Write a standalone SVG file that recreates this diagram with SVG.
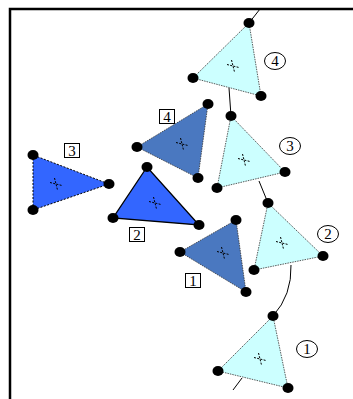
<svg xmlns="http://www.w3.org/2000/svg" width="353" height="399" viewBox="0 0 353 399">
<style>
.cy{fill:#ccffff;stroke:#333;stroke-width:0.8;stroke-dasharray:1.5 1}
.dk{fill:#4a78c0;stroke:#333;stroke-width:0.8;stroke-dasharray:1.5 1}
.br{fill:#3366ff;stroke:#000;stroke-width:1.3}
.brd{fill:#3366ff;stroke:#000;stroke-width:1;stroke-dasharray:2 1.5}
.dot{fill:#000}
.cr{stroke:#000;stroke-width:1;stroke-dasharray:2 1.3;fill:none}
.lb{font-family:"Liberation Serif",serif;font-size:15px;fill:#000;text-anchor:middle}
.cb{fill:#fff;stroke:#000;stroke-width:1}
.sb{fill:#fff;stroke:#000;stroke-width:1}
.ln{stroke:#000;stroke-width:1;fill:none}
</style>
<defs>
<g id="cross"><path class="cr" d="M-6,-1.5 L6,1.5 M-1.5,-6 L1.5,6"/></g>
</defs>
<g id="frame"><path d="M10,399 L10,9 L353,9" fill="none" stroke="#000" stroke-width="2.5"/></g>
<g id="connectors">
<line class="ln" x1="249" y1="23" x2="260" y2="9"/>
<line class="ln" x1="229" y1="88" x2="231" y2="116"/>
<line class="ln" x1="259" y1="181" x2="268" y2="203"/>
<path class="ln" d="M291,265 Q292,295 273,316"/>
<line class="ln" x1="242" y1="378" x2="233" y2="390"/>
</g>
<g id="c4">
<polygon class="cy" points="249,23 193,78 261,96"/>
<use href="#cross" x="233" y="66"/>
<ellipse class="dot" cx="249" cy="23" rx="5.5" ry="5"/><ellipse class="dot" cx="193" cy="78" rx="5.5" ry="5"/><ellipse class="dot" cx="261" cy="96" rx="5.5" ry="5"/>
<ellipse class="cb" cx="275" cy="61" rx="10.5" ry="8.5"/><text class="lb" x="275" y="66">4</text>
</g>
<g id="c3">
<polygon class="cy" points="231,116 217,188 285,172"/>
<use href="#cross" x="244" y="160"/>
<ellipse class="dot" cx="231" cy="116" rx="5.5" ry="5"/><ellipse class="dot" cx="217" cy="188" rx="5.5" ry="5"/><ellipse class="dot" cx="285" cy="172" rx="5.5" ry="5"/>
<ellipse class="cb" cx="290" cy="146" rx="10.5" ry="8.5"/><text class="lb" x="290" y="151">3</text>
</g>
<g id="c2">
<polygon class="cy" points="268,203 254,270 323,256"/>
<use href="#cross" x="282" y="243"/>
<ellipse class="dot" cx="268" cy="203" rx="5.5" ry="5"/><ellipse class="dot" cx="254" cy="270" rx="5.5" ry="5"/><ellipse class="dot" cx="323" cy="256" rx="5.5" ry="5"/>
<ellipse class="cb" cx="328" cy="234" rx="10.5" ry="8.5"/><text class="lb" x="328" y="239">2</text>
</g>
<g id="c1">
<polygon class="cy" points="273,316 218,371 288,388"/>
<use href="#cross" x="260" y="359"/>
<ellipse class="dot" cx="273" cy="316" rx="5.5" ry="5"/><ellipse class="dot" cx="218" cy="371" rx="5.5" ry="5"/><ellipse class="dot" cx="288" cy="388" rx="5.5" ry="5"/>
<ellipse class="cb" cx="307" cy="349" rx="10.5" ry="8.5"/><text class="lb" x="307" y="354">1</text>
</g>
<g id="d4">
<polygon class="dk" points="208,104 137,147 198,178"/>
<use href="#cross" x="182" y="144"/>
<ellipse class="dot" cx="208" cy="104" rx="5.5" ry="5"/><ellipse class="dot" cx="137" cy="147" rx="5.5" ry="5"/><ellipse class="dot" cx="198" cy="178" rx="5.5" ry="5"/>
<rect class="sb" x="159.5" y="109.5" width="15" height="14"/><text class="lb" x="167" y="121.5">4</text>
</g>
<g id="d1">
<polygon class="dk" points="236,220 180,252 246,292"/>
<use href="#cross" x="223" y="253"/>
<ellipse class="dot" cx="236" cy="220" rx="5.5" ry="5"/><ellipse class="dot" cx="180" cy="252" rx="5.5" ry="5"/><ellipse class="dot" cx="246" cy="292" rx="5.5" ry="5"/>
<rect class="sb" x="185.5" y="273.5" width="15" height="14"/><text class="lb" x="193" y="285.5">1</text>
</g>
<g id="b2">
<polygon class="br" points="147,167 113,218 199,225"/>
<use href="#cross" x="155" y="203"/>
<ellipse class="dot" cx="147" cy="167" rx="5.5" ry="5"/><ellipse class="dot" cx="113" cy="218" rx="5.5" ry="5"/><ellipse class="dot" cx="199" cy="225" rx="5.5" ry="5"/>
<rect class="sb" x="129.5" y="227.5" width="15" height="14"/><text class="lb" x="137" y="239.5">2</text>
</g>
<g id="b3">
<polygon class="brd" points="33,155 33,210 109,184"/>
<use href="#cross" x="56" y="184"/>
<ellipse class="dot" cx="33" cy="155" rx="5.5" ry="5"/><ellipse class="dot" cx="33" cy="210" rx="5.5" ry="5"/><ellipse class="dot" cx="109" cy="184" rx="5.5" ry="5"/>
<rect class="sb" x="64.5" y="143.5" width="15" height="14"/><text class="lb" x="72" y="155.5">3</text>
</g>
</svg>
